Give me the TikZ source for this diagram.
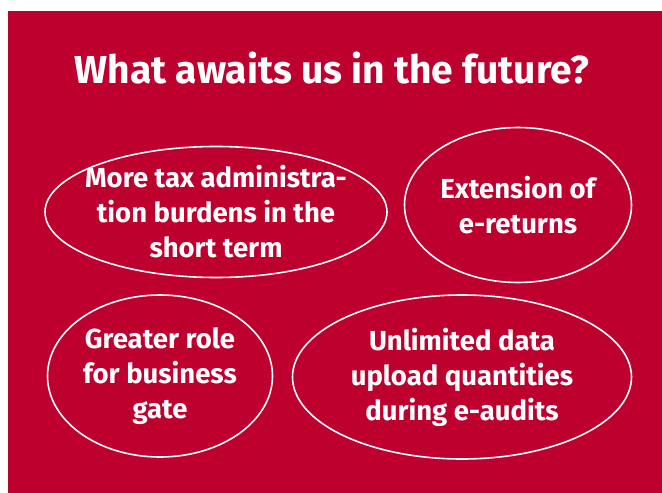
\documentclass[tikz,border=0pt]{standalone}
\usepackage{fontspec}
\setmainfont{Fira Sans}
\usetikzlibrary{shapes.geometric}
\definecolor{futurered}{RGB}{190,0,46}
\tikzset{bubble/.style={ellipse,draw=white,line width=1.6pt,text=white,align=center,
  inner sep=-40pt,font=\fontsize{27.5}{35}\selectfont\bfseries}}

\begin{document}
\begin{tikzpicture}[x=1pt,y=-1pt]
\useasboundingbox (0,0) rectangle (662,493);
\fill[futurered] (8,11) rectangle (662,493);

\node[text=white,font=\fontsize{39}{44}\selectfont\bfseries] (title) at (332,68) {What awaits us in the future?};

\node[bubble,minimum width=342,minimum height=131] (burden) at (216,212) {More tax administra-\\tion burdens in the\\short term};
\node[bubble,minimum width=227,minimum height=155] (ereturn) at (518,205) {Extension of\\e-returns};
\node[bubble,minimum width=225,minimum height=162] (gate) at (160,376) {Greater role\\for business\\gate};
\node[bubble,minimum width=339,minimum height=164] (upload) at (462,377) {Unlimited data\\upload quantities\\during e-audits};

\end{tikzpicture}
\end{document}
